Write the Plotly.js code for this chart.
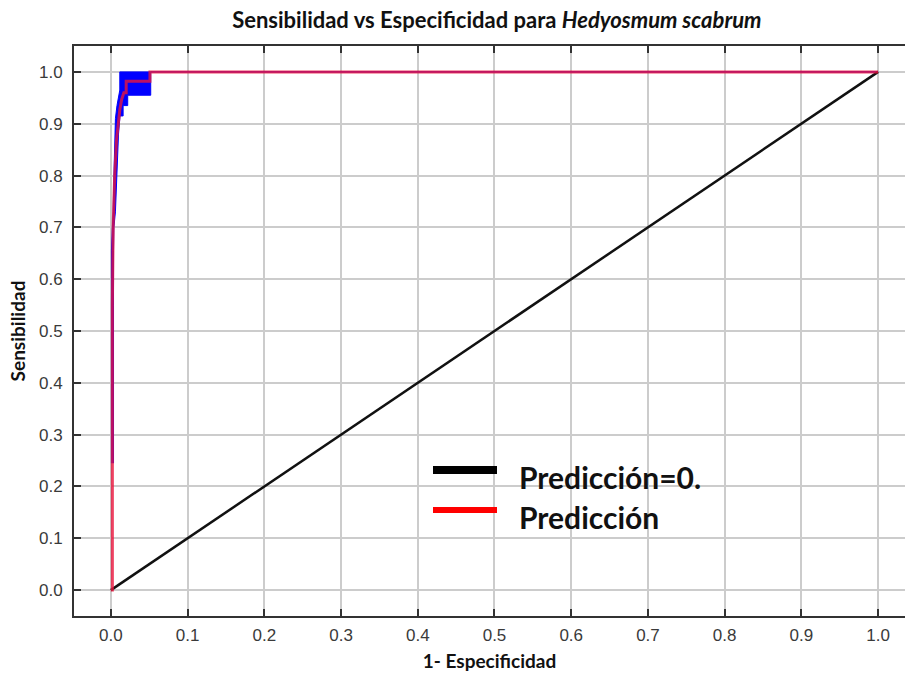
<!DOCTYPE html>
<html>
<head>
<meta charset="utf-8">
<script src="https://cdn.plot.ly/plotly-3.0.1.min.js"></script>
<style>html,body{margin:0;padding:0;background:#fff;overflow:hidden}</style>
</head>
<body>
<div id="chart" style="width:905px;height:679px"></div>
<script>
// Mean ROC curve (red)
const meanFpr = [0, 0.002, 0.002, 0.003, 0.005, 0.0074, 0.0117, 0.014, 0.017, 0.020, 0.020, 0.051, 0.051, 1.0];
const meanTpr = [0, 0, 0.55, 0.70, 0.80, 0.869, 0.927, 0.946, 0.960, 0.960, 0.982, 0.982, 1.0, 1.0];
// Variation band (blue): left/upper edge bottom->top, right/lower edge top->bottom
const bandUpperFpr = [0.0008, 0.0008, 0.002, 0.003, 0.004, 0.005, 0.006, 0.008, 0.010, 0.0117, 0.0117, 1.0];
const bandUpperTpr = [0.245, 0.656, 0.70, 0.73, 0.80, 0.88, 0.91, 0.935, 0.95, 0.965, 1.0, 1.0];
const bandLowerFpr = [1.0, 0.052, 0.052, 0.022, 0.022, 0.016, 0.016, 0.012, 0.010, 0.008, 0.006, 0.004, 0.0035, 0.0035, 0.0035];
const bandLowerTpr = [1.0, 1.0, 0.955, 0.955, 0.935, 0.935, 0.915, 0.915, 0.88, 0.80, 0.73, 0.70, 0.656, 0.55, 0.245];
// Random prediction diagonal
const diagX = [0, 1];
const diagY = [0, 1];
const tickVals = [0, 0.1, 0.2, 0.3, 0.4, 0.5, 0.6, 0.7, 0.8, 0.9, 1.0];
const tickText = ["0.0","0.1","0.2","0.3","0.4","0.5","0.6","0.7","0.8","0.9","1.0"];
const legendLabels = ["Predicción=0.", "Predicción"];

const bandX = bandUpperFpr.concat(bandLowerFpr);
const bandY = bandUpperTpr.concat(bandLowerTpr);

const traces = [
  {x: bandX, y: bandY, mode: 'lines', fill: 'toself', fillcolor: '#0000ff',
   line: {color: '#0000ff', width: 1}, hoverinfo: 'skip', showlegend: false},
  {x: diagX, y: diagY, mode: 'lines', line: {color: '#111111', width: 2.5}, showlegend: false},
  {x: meanFpr, y: meanTpr, mode: 'lines', line: {color: 'rgba(232,20,60,0.8)', width: 3}, showlegend: false}
];

const tickFont = {family: "'Liberation Sans Narrow', 'Arial Narrow', 'Liberation Sans', sans-serif", size: 17, color: '#3a3a3a'};
const boldFont = "Lato, Carlito, 'Open Sans', sans-serif";

const layout = {
  width: 905, height: 679,
  margin: {l: 74, r: 0, t: 46, b: 63},
  paper_bgcolor: '#ffffff', plot_bgcolor: '#ffffff',
  title: {text: "<b>Sensibilidad vs Especificidad para <i>Hedyosmum scabrum</i></b>",
          font: {family: boldFont, size: 22, color: '#111'}, x: 0.549, xanchor: 'center', y: 0.97, yanchor: 'middle'},
  xaxis: {range: [-0.048, 1.035], tickvals: tickVals, ticktext: tickText, ticks: 'inside', ticklen: 7,
          tickwidth: 2, tickcolor: '#333', showline: true, linecolor: '#333', linewidth: 2, mirror: 'ticks',
          showgrid: true, gridcolor: '#cccccc', gridwidth: 2, zeroline: false, tickfont: tickFont,
          ticklabelstandoff: 3,
          title: {text: '<b>1- Especificidad</b>', font: {family: boldFont, size: 19, color: '#111'}, standoff: 10}},
  yaxis: {range: [-0.05, 1.05], tickvals: tickVals, ticktext: tickText, ticks: 'inside', ticklen: 7,
          tickwidth: 2, tickcolor: '#333', showline: true, linecolor: '#333', linewidth: 2,
          showgrid: true, gridcolor: '#cccccc', gridwidth: 2, zeroline: false, tickfont: tickFont,
          ticklabelstandoff: 6,
          title: {text: '<b>Sensibilidad</b>', font: {family: boldFont, size: 19, color: '#111'}, standoff: 8}},
  shapes: [
    {type: 'rect', xref: 'paper', yref: 'paper', layer: 'between',
     x0: (497-74)/831, x1: (707-74)/831, y0: (616-488)/570, y1: (616-445)/570,
     fillcolor: '#ffffff', line: {width: 0}},
    {type: 'rect', xref: 'paper', yref: 'paper', layer: 'between',
     x0: (497-74)/831, x1: (797-74)/831, y0: (616-537)/570, y1: (616-488)/570,
     fillcolor: '#ffffff', line: {width: 0}},
    {type: 'line', xref: 'paper', yref: 'paper', x0: (433-74)/831, x1: (497-74)/831,
     y0: (616-470)/570, y1: (616-470)/570, line: {color: '#000000', width: 8}},
    {type: 'line', xref: 'paper', yref: 'paper', x0: (433-74)/831, x1: (497-74)/831,
     y0: (616-510)/570, y1: (616-510)/570, line: {color: '#ff0000', width: 6}}
  ],
  annotations: [
    {text: '<b>' + legendLabels[0] + '</b>', xref: 'paper', yref: 'paper', x: (517-74)/831, y: (616-477)/570,
     xanchor: 'left', yanchor: 'middle', showarrow: false, font: {family: boldFont, size: 30, color: '#111'}},
    {text: '<b>' + legendLabels[1] + '</b>', xref: 'paper', yref: 'paper', x: (517-74)/831, y: (616-517)/570,
     xanchor: 'left', yanchor: 'middle', showarrow: false, font: {family: boldFont, size: 30, color: '#111'}}
  ],
  showlegend: false
};

Plotly.newPlot('chart', traces, layout, {displayModeBar: false, responsive: false});
</script>
</body>
</html>
